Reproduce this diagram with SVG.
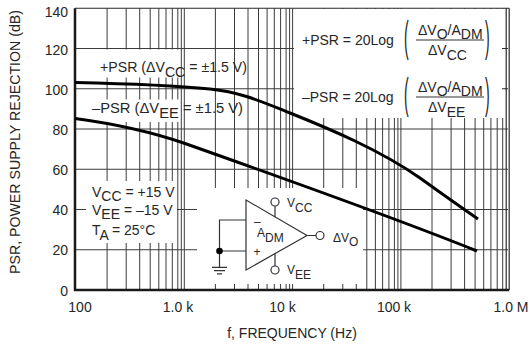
<svg xmlns="http://www.w3.org/2000/svg" width="530" height="349" viewBox="0 0 530 349">
<style>
.g{stroke:#3c3c3c;stroke-width:1;fill:none}
.ax{stroke:#1a1a1a;stroke-width:2.5;fill:none}
.fr{stroke:#2a2a2a;stroke-width:1.2;fill:none}
.mask{fill:#fff}
.cv{stroke:#000;stroke-width:3;fill:none}
.w{stroke:#333;stroke-width:1.2;fill:none}
text{font-family:"Liberation Sans",Arial,Helvetica,sans-serif;font-size:14px;fill:#262626}
.s{font-size:12px}
.ya{text-anchor:end}
.xa{text-anchor:middle}
</style>
<rect width="530" height="349" fill="#fff"/>
<g id="grid">
<path class="g" d="M107.1,8.25V290M126.2,8.25V290M139.7,8.25V290M150.2,8.25V290M158.8,8.25V290M166,8.25V290M172.3,8.25V290M177.8,8.25V290M181.3,8.25V290M184.3,8.25V290M215.4,8.25V290M234.5,8.25V290M248,8.25V290M258.5,8.25V290M267.1,8.25V290M274.3,8.25V290M280.6,8.25V290M286.1,8.25V290M289.6,8.25V290M292.6,8.25V290M323.7,8.25V290M342.8,8.25V290M356.3,8.25V290M366.8,8.25V290M375.4,8.25V290M382.6,8.25V290M388.9,8.25V290M394.4,8.25V290M397.9,8.25V290M400.9,8.25V290M432,8.25V290M451.1,8.25V290M464.6,8.25V290M475.1,8.25V290M483.7,8.25V290M490.9,8.25V290M497.2,8.25V290M502.7,8.25V290"/>
<path class="g" d="M75,48.5H508M75,88.75H508M75,129H508M75,169.25H508M75,209.5H508M75,249.75H508"/>
</g>
<g id="masks">
<rect class="mask" x="76.5" y="49.5" width="103.5" height="28"/>
<rect class="mask" x="76.5" y="99.5" width="103.5" height="22.5"/>
<rect class="mask" x="86" y="181" width="91" height="62"/>
<rect class="mask" x="197" y="188" width="166" height="96"/>
<rect class="mask" x="294" y="9" width="211.5" height="109"/>
</g>
<g id="frame">
<path class="fr" d="M75,8.25H509.2M506.2,8.25V290M509.2,8.25V290M502,48.5H506.2M502,88.75H506.2"/>
<path class="ax" d="M75,8.25V290H509.2"/>
</g>
<g id="y-labels" class="ya">
<text x="68" y="16.5">140</text>
<text x="68" y="55">120</text>
<text x="68" y="95">100</text>
<text x="68" y="134.5">80</text>
<text x="68" y="174.5">60</text>
<text x="68" y="214.5">40</text>
<text x="68" y="255">20</text>
<text x="68" y="295.5">0</text>
</g>
<g id="x-labels" class="xa">
<text x="80" y="312">100</text>
<text x="178" y="312">1.0 k</text>
<text x="282.5" y="312">10 k</text>
<text x="394" y="312">100 k</text>
<text x="511" y="312">1.0 M</text>
</g>
<text id="x-title" class="xa" x="292" y="338">f, FREQUENCY (Hz)</text>
<text id="y-title" class="xa" transform="translate(19.5,142) rotate(-90)" textLength="264" lengthAdjust="spacingAndGlyphs">PSR, POWER SUPPLY REJECTION (dB)</text>
<g id="curves">
<path id="curve-plus" class="cv" d="M75,82.5C120,83.5 170,85 210,89C240,92 260,101 290,113C330,129 380,150 420,178C445,196 465,210 478,219"/>
<path id="curve-minus" class="cv" d="M75,118.5C105,122.5 147,130.3 185,143.5C260,170 400,220 477,251"/>
</g>
<g id="label-plus">
<text x="100" y="72" textLength="147" lengthAdjust="spacingAndGlyphs">+PSR (ΔV<tspan dy="5">CC</tspan><tspan dy="-5"> = ±1.5 V)</tspan></text>
</g>
<g id="label-minus">
<text x="92" y="113" textLength="151" lengthAdjust="spacingAndGlyphs">–PSR (ΔV<tspan dy="5">EE</tspan><tspan dy="-5"> = ±1.5 V)</tspan></text>
</g>
<g id="conditions">
<text x="92" y="196.5">V<tspan dy="4.5">CC</tspan><tspan dy="-4.5"> = +15 V</tspan></text>
<text x="92" y="215">V<tspan dy="4">EE</tspan><tspan dy="-4"> = –15 V</tspan></text>
<text x="92" y="234.5">T<tspan dy="5">A</tspan><tspan dy="-5"> = 25°C</tspan></text>
</g>
<g id="formula-plus">
<text x="302" y="45">+PSR = 20Log</text>
<text transform="translate(404,51) scale(1,3.03)" x="0" y="0">(</text>
<text x="418" y="35">ΔV<tspan dy="4">O</tspan><tspan dy="-4">/A</tspan><tspan dy="4">DM</tspan></text>
<path class="w" d="M416,40H484"/>
<text x="428" y="55">ΔV<tspan dy="5">CC</tspan></text>
<text transform="translate(485,51) scale(1,3.03)" x="0" y="0">)</text>
</g>
<g id="formula-minus">
<text x="302" y="102">–PSR = 20Log</text>
<text transform="translate(404,108) scale(1,3.03)" x="0" y="0">(</text>
<text x="418" y="92">ΔV<tspan dy="4">O</tspan><tspan dy="-4">/A</tspan><tspan dy="4">DM</tspan></text>
<path class="w" d="M416,97H484"/>
<text x="428" y="112">ΔV<tspan dy="5">EE</tspan></text>
<text transform="translate(485,108) scale(1,3.03)" x="0" y="0">)</text>
</g>
<g id="opamp">
<polygon class="w" points="246,200 246,270 307,235.5" style="fill:#fff"/>
<path class="w" d="M246,220H219.5V267M219.5,251H246M212,267.3H227M214,270.6H225M217,273.8H222M307,235.5H316M275,206V217M275,253.5V266"/>
<circle cx="219.5" cy="251" r="3.3" fill="#000"/>
<circle class="w" cx="320" cy="235.5" r="4" style="fill:#fff"/>
<circle class="w" cx="275" cy="202" r="4" style="fill:#fff"/>
<circle class="w" cx="275" cy="270" r="4" style="fill:#fff"/>
<text class="s" x="254" y="225.5">–</text>
<text class="s" x="253.5" y="255.5">+</text>
<text class="s" x="257" y="237">A<tspan dy="5">DM</tspan></text>
<text class="s" x="287" y="207">V<tspan dy="5">CC</tspan></text>
<text class="s" x="287" y="273.5">V<tspan dy="5">EE</tspan></text>
<text class="s" x="333" y="241.5">ΔV<tspan dy="4">O</tspan></text>
</g>
</svg>
